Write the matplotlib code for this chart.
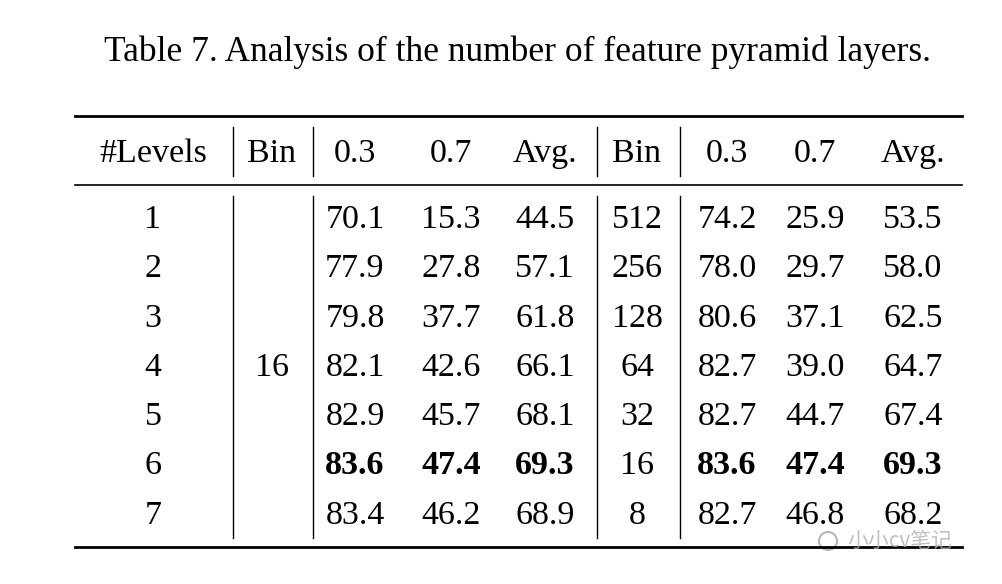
import matplotlib
matplotlib.use("Agg")
import matplotlib.pyplot as plt

title = "Table 7. Analysis of the number of feature pyramid layers."
headers = ["#Levels", "Bin", "0.3", "0.7", "Avg.", "Bin", "0.3", "0.7", "Avg."]
levels = ["1", "2", "3", "4", "5", "6", "7"]
bin1 = "16"
a03 = ["70.1", "77.9", "79.8", "82.1", "82.9", "83.6", "83.4"]
a07 = ["15.3", "27.8", "37.7", "42.6", "45.7", "47.4", "46.2"]
aavg = ["44.5", "57.1", "61.8", "66.1", "68.1", "69.3", "68.9"]
bin2 = ["512", "256", "128", "64", "32", "16", "8"]
b03 = ["74.2", "78.0", "80.6", "82.7", "82.7", "83.6", "82.7"]
b07 = ["25.9", "29.7", "37.1", "39.0", "44.7", "47.4", "46.8"]
bavg = ["53.5", "58.0", "62.5", "64.7", "67.4", "69.3", "68.2"]
bold_row = 5

W, H = 1002, 584
fig = plt.figure(figsize=(W/100, H/100), dpi=100)
ax = fig.add_axes([0, 0, 1, 1])
ax.set_xlim(0, W); ax.set_ylim(H, 0); ax.axis("off")
font = "Liberation Serif"
fs = 24.5

ax.text(518, 52, title, ha="center", va="center", fontsize=25.5, family=font)

xs = [153, 272, 355, 451, 545, 637, 727, 815, 913]
ax.plot([75, 962], [116, 116], color="black", lw=2)
ax.plot([75, 962], [185, 185], color="black", lw=1.2)
ax.plot([75, 962], [547, 547], color="black", lw=2)
for vx in [233, 313, 597, 680]:
    ax.plot([vx, vx], [127, 176], color="black", lw=1)
    ax.plot([vx, vx], [196, 538], color="black", lw=1)

for x, h in zip(xs, headers):
    ax.text(x, 162, h, ha="center", va="baseline", fontsize=fs, family=font)

row_y = [228, 277, 327, 376, 425, 474, 524]
for i, y in enumerate(row_y):
    vals = [levels[i], "", a03[i], a07[i], aavg[i], bin2[i], b03[i], b07[i], bavg[i]]
    for j, (x, v) in enumerate(zip(xs, vals)):
        w = "bold" if (i == bold_row and j not in (0, 1, 5)) else "normal"
        ax.text(x, y, v, ha="center", va="baseline", fontsize=fs, family=font, weight=w)
ax.text(xs[1], row_y[3], bin1, ha="center", va="baseline", fontsize=fs, family=font)

ax.text(900, 541, "小小cv笔记", ha="center", va="center", fontsize=15,
        family=["Noto Sans CJK SC", "DejaVu Sans"], color="#b0b0b0", alpha=0.8)
ax.add_patch(plt.Circle((828, 541), 9, fill=False, ec="#b8b8b8", lw=1.5))

fig.savefig("out.png", dpi=100, facecolor="white")
